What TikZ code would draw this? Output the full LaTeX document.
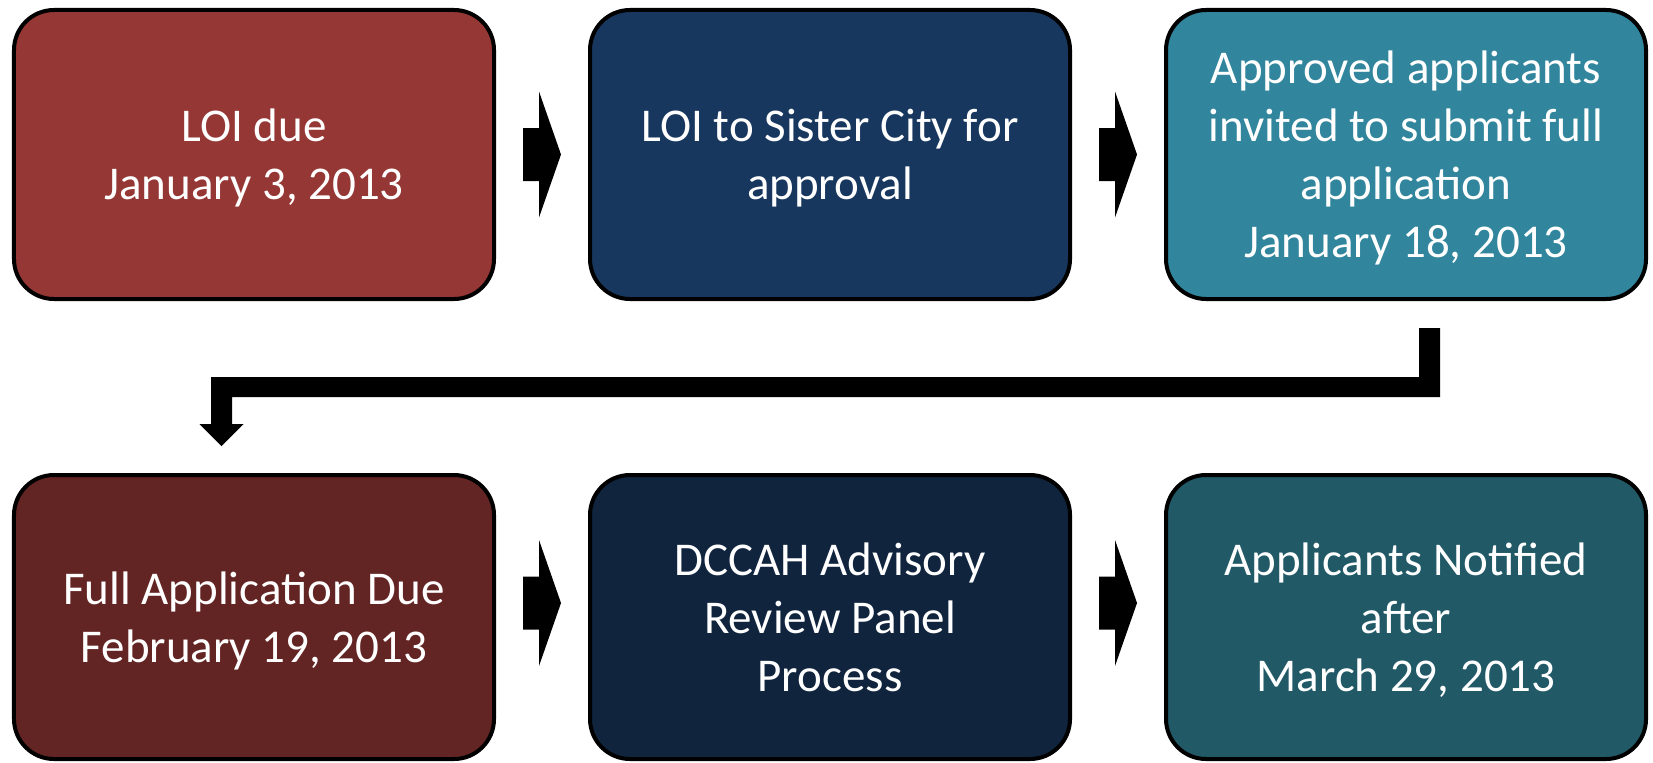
\documentclass[tikz,border=0pt]{standalone}
\usepackage{fontspec}
\setmainfont{Carlito}
\usetikzlibrary{positioning,calc}
\definecolor{duered}{HTML}{953735}
\definecolor{sisterblue}{HTML}{17375E}
\definecolor{invitedteal}{HTML}{31859C}
\definecolor{fullred}{HTML}{632523}
\definecolor{panelblue}{HTML}{10243E}
\definecolor{notifiedteal}{HTML}{215967}

\begin{document}
\begin{tikzpicture}[x=1bp,y=-1bp,
	stage/.style={draw,line width=4bp,rounded corners=40bp,minimum width=480bp,minimum height=289bp,
		inner sep=0pt,text=white,align=center,text depth=-2bp,font=\fontsize{47bp}{58bp}\selectfont},
	lowstage/.style={stage,minimum height=284bp},
	stepto/.pic={\fill (-19,-26.5) -- (-3,-26.5) -- (-3,-63) -- (19,0) -- (-3,63) -- (-3,26.5) -- (-19,26.5) -- cycle;}
]
\useasboundingbox (0,0) rectangle (1653,763);

% top row
\node[stage,fill=duered] (due) at (254,154.5) {LOI due\\January 3, 2013};
\node[stage,fill=sisterblue,right=92bp of due] (sister) {LOI to Sister City for\\approval};
\node[stage,fill=invitedteal,right=92bp of sister] (invited) {Approved applicants\\invited to submit full\\application\\January 18, 2013};

% bottom row
\node[lowstage,fill=fullred,below=172bp of due] (full) {Full Application Due\\February 19, 2013};
\node[lowstage,fill=panelblue,right=92bp of full] (panel) {DCCAH Advisory\\Review Panel\\Process};
\node[lowstage,fill=notifiedteal,right=92bp of panel] (notified) {Applicants Notified\\after\\March 29, 2013};

\pic at ($(due.east)!.5!(sister.west)$) {stepto};
\pic at ($(sister.east)!.5!(invited.west)$) {stepto};
\pic at ($(full.east)!.5!(panel.west)+(0,-14)$) {stepto};
\pic at ($(panel.east)!.5!(notified.west)+(0,-14)$) {stepto};

% elbow from the top row down to the bottom row
\coordinate (turn) at ($(invited.south)+(23.5,27)$);
\coordinate (land) at ($(full.north)+(-32.5,-27)$);
\fill (turn) ++(-10.5,0) -- ++(21,0) |- ($(land)+(10.5,-49)$) -- ++(0,27) -- ++(11.5,0) -- (land)
	-- ++(-22,-22) -- ++(11.5,0) |- ($(turn)+(-10.5,49)$) -- cycle;
\end{tikzpicture}
\end{document}
